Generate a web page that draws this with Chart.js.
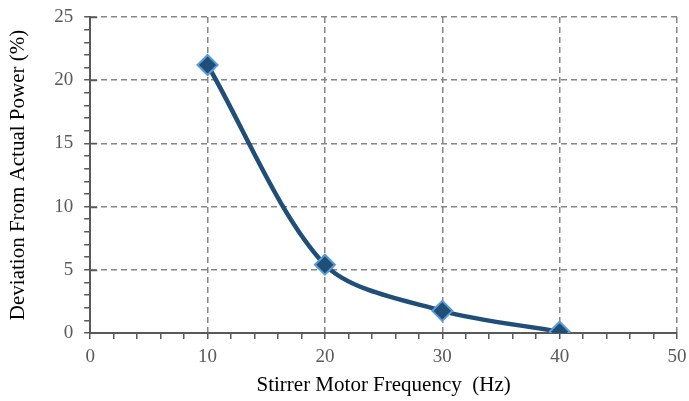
<!DOCTYPE html>
<html>
<head>
<meta charset="utf-8">
<script src="https://cdn.jsdelivr.net/npm/chart.js@4/dist/chart.umd.min.js"></script>
<style>
  html, body { margin: 0; padding: 0; background: #fff; }
  #wrap { width: 689px; height: 401px; }
</style>
</head>
<body>
<div id="wrap"><canvas id="chart"></canvas></div>
<script>
// Datos
const frequency = [10, 20, 30, 40];          // Hz
const deviation = [21.2, 5.4, 1.75, 0.1];    // %
const xTitle = 'Stirrer Motor Frequency  (Hz)';
const yTitle = 'Deviation From Actual Power (%)';

const points = frequency.map((f, i) => ({ x: f, y: deviation[i] }));

const gridGray = '#868686';
const axisGray = '#595959';
const serif = 'Liberation Serif';

function isMajor(v, step) {
    return Math.abs(v % step) < 1e-6;
}

// Las marcas mayores del eje Y cruzan el eje hacia dentro
const innerTicks = {
    id: 'innerTicks',
    afterDraw(chart) {
        const y = chart.scales.y;
        const ctx = chart.ctx;
        ctx.save();
        ctx.strokeStyle = axisGray;
        ctx.lineWidth = 1.5;
        y.ticks.forEach(t => {
            if (!isMajor(t.value, 5) || t.value === 0) return;
            const py = Math.round(y.getPixelForValue(t.value)) + 0.5;
            ctx.beginPath();
            ctx.moveTo(y.right, py);
            ctx.lineTo(y.right + 7, py);
            ctx.stroke();
        });
        ctx.restore();
    }
};

new Chart(document.getElementById('chart'), {
    type: 'scatter',
    data: {
        datasets: [{
            data: points,
            showLine: true,
            tension: 0.3,
            borderColor: '#1F4E79',
            borderWidth: 4.5,
            pointStyle: 'rectRot',
            pointRadius: 10,
            pointHoverRadius: 10,
            pointBackgroundColor: '#1F4E79',
            pointBorderColor: '#5B9BD5',
            pointBorderWidth: 2
        }]
    },
    options: {
        responsive: true,
        maintainAspectRatio: false,
        animation: false,
        layout: { padding: { top: 0, right: 0, left: 4, bottom: 4 } },
        plugins: {
            legend: { display: false },
            tooltip: { enabled: false }
        },
        scales: {
            x: {
                min: 0,
                max: 50,
                ticks: {
                    stepSize: 2,
                    autoSkip: false,
                    maxRotation: 0,
                    color: axisGray,
                    font: { family: serif, size: 19, lineHeight: 1.684 },
                    padding: 2,
                    callback: v => isMajor(v, 10) ? v : ''
                },
                grid: {
                    color: ctx => isMajor(ctx.tick.value, 10) ? gridGray : 'rgba(0,0,0,0)',
                    lineWidth: 1.5,
                    tickColor: axisGray,
                    tickLength: 6,
                    tickWidth: 1.5
                },
                border: { color: axisGray, width: 2, dash: [6, 4] },
                title: {
                    display: true,
                    text: xTitle,
                    color: '#000',
                    font: { family: serif, size: 21, lineHeight: 1.05 },
                    padding: { top: 0, bottom: 0 }
                }
            },
            y: {
                min: 0,
                max: 25,
                ticks: {
                    stepSize: 1,
                    autoSkip: false,
                    color: axisGray,
                    font: { family: serif, size: 19, lineHeight: 0.63 },
                    padding: 11,
                    callback: v => isMajor(v, 5) ? v : ''
                },
                grid: {
                    color: ctx => isMajor(ctx.tick.value, 5) ? gridGray : 'rgba(0,0,0,0)',
                    lineWidth: 1.5,
                    tickColor: axisGray,
                    tickLength: 6,
                    tickWidth: 1.5
                },
                border: { color: axisGray, width: 2, dash: [6, 4] },
                title: {
                    display: true,
                    text: yTitle,
                    color: '#000',
                    font: { family: serif, size: 21 },
                    padding: { top: 2, bottom: 12 }
                }
            }
        }
    },
    plugins: [innerTicks]
});
</script>
</body>
</html>
